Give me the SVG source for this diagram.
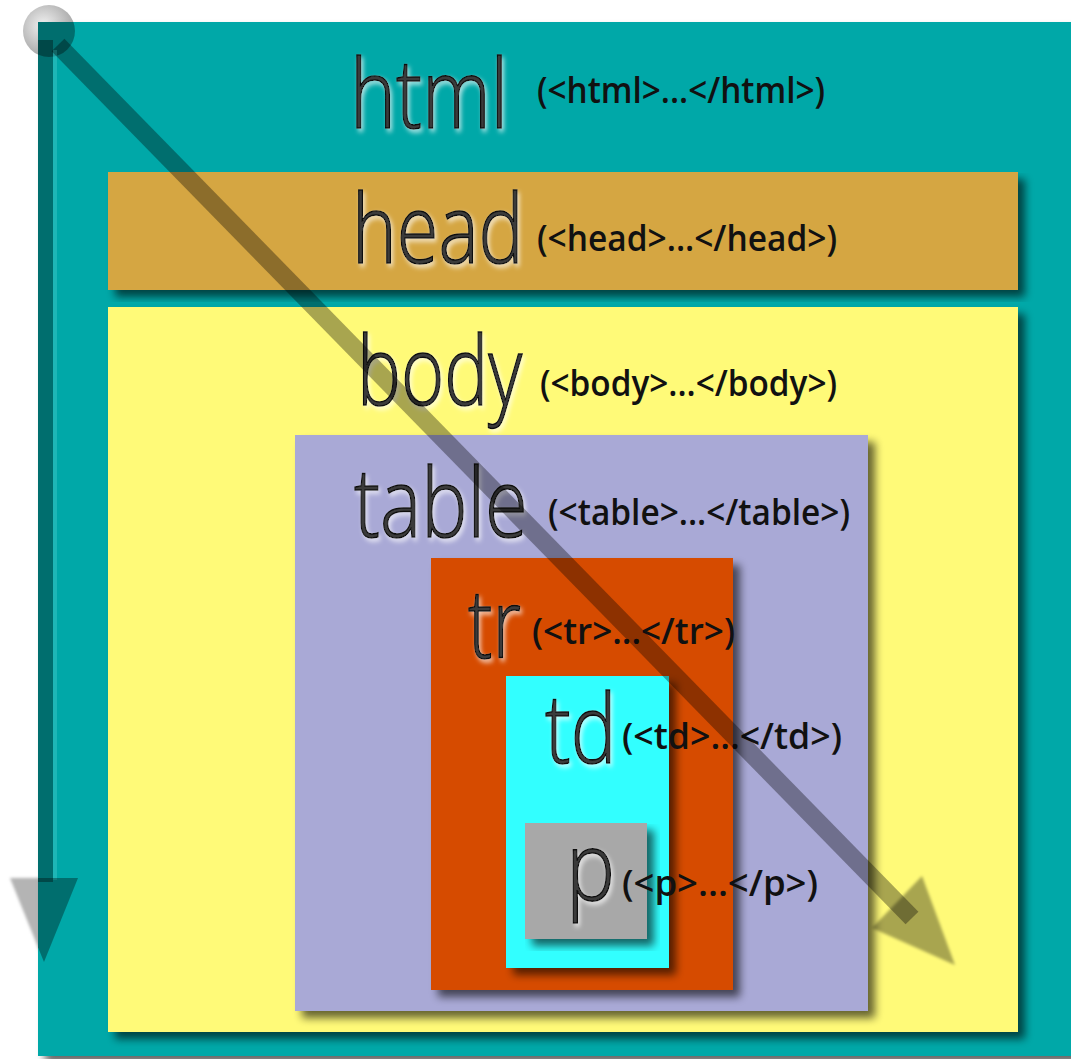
<svg xmlns="http://www.w3.org/2000/svg" width="1071" height="1059" viewBox="0 0 1071 1059">
<defs>
<style>
.big{font-family:"Open Sans","Liberation Sans",sans-serif;font-size:96px;font-weight:300;fill:#3a3a3a;stroke:#111;stroke-width:1.5;filter:url(#emb)}
.lab{font-family:"Open Sans","Liberation Sans",sans-serif;font-size:36px;font-weight:600;fill:#111}
.box{filter:url(#sh)}
.arr{fill:#000;fill-opacity:0.34}
</style>
<filter id="sh" x="-5%" y="-5%" width="115%" height="115%">
<feGaussianBlur in="SourceAlpha" stdDeviation="4"/>
<feOffset dx="7" dy="7"/>
<feComponentTransfer><feFuncA type="linear" slope="0.6"/></feComponentTransfer>
<feMerge><feMergeNode/><feMergeNode in="SourceGraphic"/></feMerge>
</filter>
<filter id="emb" x="-10%" y="-10%" width="130%" height="130%">
<feGaussianBlur in="SourceAlpha" stdDeviation="2.5" result="b"/>
<feFlood flood-color="#fff" flood-opacity="0.7"/>
<feComposite in2="b" operator="in"/>
<feOffset dx="2" dy="3"/>
<feMerge><feMergeNode/><feMergeNode in="SourceGraphic"/></feMerge>
</filter>
<filter id="soft" x="-10%" y="-10%" width="120%" height="120%">
<feGaussianBlur stdDeviation="1.5"/>
</filter>
<radialGradient id="ball" cx="0.4" cy="0.4" r="0.6">
<stop offset="0" stop-color="#f2f2f2"/>
<stop offset="1" stop-color="#a8a8a8"/>
</radialGradient>
<clipPath id="tealclip"><rect x="38" y="22" width="1040" height="1035"/></clipPath>
</defs>
<rect width="1071" height="1059" fill="#fff"/>
<circle cx="49" cy="31" r="26" fill="url(#ball)"/>
<polygon points="10,878 78,878 44,962" fill="#b4b4b4" filter="url(#soft)"/>

<g id="html">
<rect class="box" x="38" y="22" width="1040" height="1034" fill="#00a8a8"/>
<text class="big" transform="translate(350,128) scale(0.81,1)">html</text>
<text class="lab" x="537" y="103" textLength="288" lengthAdjust="spacingAndGlyphs">(&lt;html&gt;...&lt;/html&gt;)</text>
</g>
<g id="head">
<rect class="box" x="108" y="172" width="910" height="118" fill="#d5a642"/>
<text class="big" transform="translate(352,263) scale(0.79,1)">head</text>
<text class="lab" x="537" y="251" textLength="300" lengthAdjust="spacingAndGlyphs">(&lt;head&gt;...&lt;/head&gt;)</text>
</g>
<g id="body">
<rect class="box" x="108" y="307" width="910" height="725" fill="#fffa78"/>
<text class="big" transform="translate(357,405) scale(0.77,1)">body</text>
<text class="lab" x="540" y="396" textLength="297" lengthAdjust="spacingAndGlyphs">(&lt;body&gt;...&lt;/body&gt;)</text>
</g>
<g id="table">
<rect class="box" x="295" y="435" width="573" height="576" fill="#a9a9d6"/>
<text class="big" transform="translate(354,537) scale(0.81,1)">table</text>
<text class="lab" x="548" y="525" textLength="302" lengthAdjust="spacingAndGlyphs">(&lt;table&gt;...&lt;/table&gt;)</text>
</g>
<g id="tr">
<rect class="box" x="431" y="558" width="302" height="432" fill="#d64c00"/>
<text class="big" transform="translate(468,658) scale(0.76,1)">tr</text>
<text class="lab" x="532" y="644" textLength="203" lengthAdjust="spacingAndGlyphs">(&lt;tr&gt;...&lt;/tr&gt;)</text>
</g>
<g id="td">
<rect class="box" x="506" y="676" width="163" height="292" fill="#33ffff"/>
<text class="big" transform="translate(545,763) scale(0.8,1)">td</text>
</g>
<g id="p">
<rect class="box" x="525" y="823" width="122" height="116" fill="#a8a8a8"/>
<text class="big" transform="translate(566,900) scale(0.86,1)">p</text>
</g>
<text class="lab" x="622" y="749" textLength="220" lengthAdjust="spacingAndGlyphs">(&lt;td&gt;...&lt;/td&gt;)</text>
<text class="lab" x="622" y="896" textLength="196" lengthAdjust="spacingAndGlyphs">(&lt;p&gt;...&lt;/p&gt;)</text>

<g id="connectors">
<g clip-path="url(#tealclip)">
<circle class="arr" cx="49" cy="31" r="26" fill-opacity="0.3"/>
<rect class="arr" x="38" y="40" width="15" height="842"/>
<rect x="53" y="50" width="4" height="830" fill="#3cc4c4" fill-opacity="0.5"/>
<polygon class="arr" points="10,878 78,878 44,962"/>
</g>
<line x1="58" y1="45" x2="912" y2="918" stroke="#000" stroke-opacity="0.34" stroke-width="18"/>
<polygon class="arr" points="955,965 922,876 872,928" filter="url(#soft)"/>
</g>
</svg>
